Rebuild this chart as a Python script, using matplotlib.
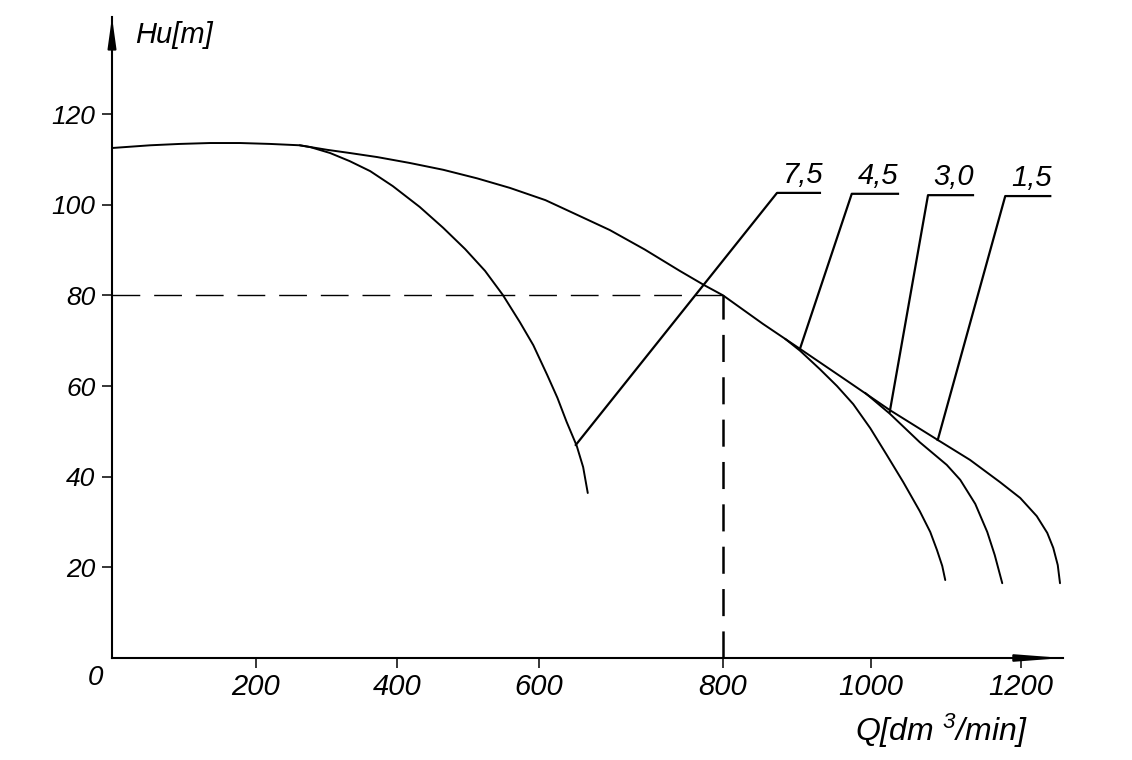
import numpy as np
import matplotlib
matplotlib.use('Agg')
import matplotlib.pyplot as plt

plt.rcParams['font.family'] = ['Liberation Sans', 'DejaVu Sans']
plt.rcParams['font.style'] = 'italic'
plt.rcParams['mathtext.fontset'] = 'custom'
plt.rcParams['mathtext.rm'] = 'Liberation Sans:italic'
plt.rcParams['mathtext.it'] = 'Liberation Sans:italic'
plt.rcParams['lines.scale_dashes'] = False

# pump curves H(Q)
q_15 = [0, 53, 94, 136, 178, 220, 262, 301, 333, 372, 418, 465, 513, 559, 607, 641, 677, 715, 753, 780, 800,
        854, 904, 968, 1025, 1089, 1132, 1172, 1199, 1221, 1235, 1243, 1249, 1252]
h_15 = [112.5, 113.1, 113.4, 113.6, 113.6, 113.4, 113.1, 112.1, 111.4, 110.5, 109.2, 107.7, 105.8, 103.7, 101.0, 97.8, 94.4, 90.1, 85.4, 82.2, 80.0,
        73.7, 68.2, 61.1, 54.7, 48.1, 43.7, 38.8, 35.3, 31.3, 27.6, 24.3, 20.5, 16.5]

q_30 = [992, 1025, 1065, 1101, 1119, 1139, 1155, 1165, 1175]
h_30 = [58.5, 53.9, 47.6, 42.6, 39.3, 34.0, 27.8, 22.7, 16.5]

q_45 = [884, 904, 931, 954, 976, 999, 1021, 1043, 1065, 1079, 1088, 1095, 1099]
h_45 = [70.4, 67.8, 63.7, 60.0, 56.0, 50.7, 44.8, 38.8, 32.4, 27.8, 23.8, 20.3, 17.2]

q_75 = [262, 277, 305, 333, 362, 394, 432, 465, 496, 524, 549, 573, 592, 609, 620, 630, 641, 648, 653]
h_75 = [113.1, 112.7, 111.4, 109.6, 107.4, 104.1, 99.5, 94.9, 90.2, 85.4, 80.1, 74.1, 69.0, 62.4, 57.4, 52.1, 46.8, 42.1, 36.4]

# leader lines: point on curve -> start of shelf -> end of shelf
curve_labels = ['7,5', '4,5', '3,0', '1,5']
leader_q = [[640, 873, 931], [904, 974, 1036], [1025, 1076, 1136], [1089, 1179, 1239]]
leader_h = [[47.0, 102.6, 102.6], [68.2, 102.4, 102.4], [54.3, 102.1, 102.1], [48.1, 101.9, 101.9]]

# operating point
q_op, h_op = 800, 80

x_ticks = [200, 400, 600, 800, 1000, 1200]
y_ticks = [20, 40, 60, 80, 100, 120]

# the drawn Q axis is not evenly spaced, so use a piecewise scale
q_ref = [-400, 0, 200, 400, 600, 800, 1000, 1200, 1600]
px_ref = [-288, 0, 144, 285, 427, 611, 759, 909, 1209]


def fwd(q):
    return np.interp(q, q_ref, px_ref)


def inv(p):
    return np.interp(p, px_ref, q_ref)


fig = plt.figure(figsize=(11.32, 7.6), dpi=100)
ax = fig.add_axes([112 / 1132, 102 / 760, (1063 - 112) / 1132, (658 - 17) / 760])
ax.set_xscale('function', functions=(fwd, inv))
ax.set_xlim(0, 1256)
ax.set_ylim(0, 141.4)

for q, h in [(q_15, h_15), (q_30, h_30), (q_45, h_45), (q_75, h_75)]:
    ax.plot(q, h, color='black', lw=1.4, solid_capstyle='round', solid_joinstyle='round')

for lab, lq, lh in zip(curve_labels, leader_q, leader_h):
    ax.plot(lq, lh, color='black', lw=1.6)
    ax.annotate(lab, xy=(lq[1], lh[1]), xytext=(4, 3), textcoords='offset points',
                ha='left', va='bottom', fontsize=21)

ax.plot([0, q_op], [h_op, h_op], color='black', lw=1.0, linestyle=(0, (20, 10)))
ax.plot([q_op, q_op], [0, h_op], color='black', lw=1.8, linestyle=(0, (19.5, 11)))

for s in ['top', 'right']:
    ax.spines[s].set_visible(False)
for s in ['left', 'bottom']:
    ax.spines[s].set_linewidth(1.5)

ax.annotate('', xy=(0, 1), xycoords='axes fraction', xytext=(0, 0.95),
            arrowprops=dict(arrowstyle='-|>,head_length=1.8,head_width=0.25',
                            color='black', lw=1.5, shrinkA=0, shrinkB=0))
ax.annotate('', xy=(1, 0), xycoords='axes fraction', xytext=(0.95, 0),
            arrowprops=dict(arrowstyle='-|>,head_length=2.6,head_width=0.2',
                            color='black', lw=1.5, shrinkA=0, shrinkB=0))

ax.set_xticks(x_ticks)
ax.set_xticklabels([str(t) for t in x_ticks])
ax.set_yticks(y_ticks)
ax.set_yticklabels([str(t) for t in y_ticks])
ax.tick_params(axis='x', direction='out', length=7, width=1.1, pad=3.5, labelsize=21)
ax.tick_params(axis='y', direction='out', length=7, width=1.1, pad=5, labelsize=19)

ax.annotate('0', xy=(0, 0), xytext=(-12, -5), textcoords='offset points',
            ha='center', va='top', fontsize=20)

fig.text(135 / 1132, 1 - 35 / 760, 'Hu[m]', ha='left', va='center', fontsize=21)
fig.text(941 / 1132, 1 - 731 / 760, r'Q[dm $^3$/min]', ha='center', va='center', fontsize=23)

fig.savefig('out.png', dpi=100, facecolor='white')
